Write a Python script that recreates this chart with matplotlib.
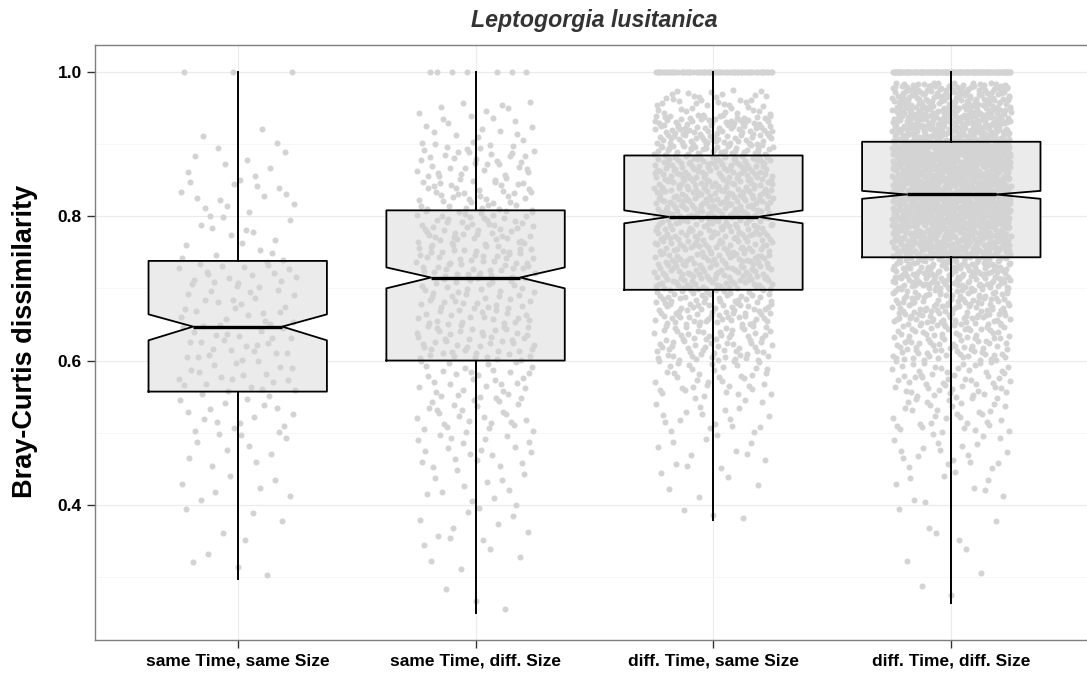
import numpy as np
import matplotlib.pyplot as plt

plt.rcParams['font.family'] = ['Liberation Sans', 'DejaVu Sans']

groups = ['same Time, same Size', 'same Time, diff. Size',
          'diff. Time, same Size', 'diff. Time, diff. Size']

# box statistics
q1 = [0.557, 0.600, 0.698, 0.743]
med = [0.647, 0.715, 0.799, 0.830]
q3 = [0.738, 0.808, 0.884, 0.903]
notch_lo = [0.628, 0.700, 0.790, 0.824]
notch_hi = [0.664, 0.729, 0.808, 0.835]
whisk_lo = [0.297, 0.250, 0.379, 0.264]
whisk_hi = [1.0, 1.0, 1.0, 1.0]

# jittered points: how many points fall in each band of dissimilarity
g1_edges = [0.297, 0.35, 0.40, 0.45, 0.50, 0.557, 0.60, 0.647, 0.70, 0.738, 0.80, 0.85, 0.90, 0.93]
g1_counts = [4, 5, 7, 10, 18, 20, 24, 24, 20, 15, 15, 8, 3]
g2_edges = [0.25, 0.30, 0.35, 0.40, 0.45, 0.50, 0.55, 0.60, 0.65, 0.715, 0.76, 0.808, 0.85, 0.90, 0.96]
g2_counts = [3, 5, 10, 12, 20, 28, 32, 50, 60, 55, 55, 40, 40, 23]
g3_edges = [0.379, 0.40, 0.45, 0.50, 0.55, 0.60, 0.65, 0.698, 0.75, 0.799, 0.84, 0.884, 0.90, 0.94, 0.975]
g3_counts = [3, 5, 12, 20, 40, 75, 95, 130, 120, 125, 125, 45, 105, 40]
g4_edges = [0.264, 0.30, 0.35, 0.40, 0.45, 0.50, 0.55, 0.60, 0.65, 0.70, 0.743,
            0.79, 0.83, 0.87, 0.903, 0.95, 0.985]
g4_counts = [2, 3, 5, 10, 20, 35, 55, 90, 130, 150, 240, 260, 260, 240, 250, 150]
# points sitting exactly at 1.0
at_one = [3, 7, 60, 100]


def halton(i, b):
    f, r = 1.0, 0.0
    while i > 0:
        f /= b
        r += f * (i % b)
        i //= b
    return r


def spread(pos, edges, counts, n_top, half=0.25):
    # lay the counted points out evenly inside each band (stands in for jitter)
    xs, ys = [], []
    k = 1
    for lo, hi, n in zip(edges[:-1], edges[1:], counts):
        for _ in range(n):
            xs.append(pos + half * (2 * halton(k, 2) - 1))
            ys.append(lo + (hi - lo) * halton(k, 3))
            k += 1
    for _ in range(n_top):
        xs.append(pos + half * (2 * halton(k, 2) - 1))
        ys.append(1.0)
        k += 1
    return xs, ys


fig = plt.figure(figsize=(10.87, 6.73), dpi=100)
ax = fig.add_axes([95 / 1087, 33 / 673, 999 / 1087, 595 / 673])

pos = [1, 2, 3, 4]
stats = [dict(med=med[i], q1=q1[i], q3=q3[i], cilo=notch_lo[i], cihi=notch_hi[i],
              whislo=whisk_lo[i], whishi=whisk_hi[i], label=groups[i]) for i in range(4)]

# fill layer
ax.bxp(stats, positions=pos, widths=0.75, shownotches=True, showcaps=False,
       showfliers=False, patch_artist=True,
       boxprops=dict(facecolor='#EBEBEB', edgecolor='none'),
       whiskerprops=dict(linewidth=0), medianprops=dict(linewidth=0), zorder=2)

all_edges = [g1_edges, g2_edges, g3_edges, g4_edges]
all_counts = [g1_counts, g2_counts, g3_counts, g4_counts]
for i in range(4):
    xs, ys = spread(pos[i], all_edges[i], all_counts[i], at_one[i])
    ax.scatter(xs, ys, s=19, color='#D3D3D3', linewidths=0, zorder=3)

# outline layer
ax.bxp(stats, positions=pos, widths=0.75, shownotches=True, showcaps=False,
       showfliers=False,
       boxprops=dict(color='black', linewidth=1.3),
       whiskerprops=dict(color='black', linewidth=1.4),
       medianprops=dict(color='black', linewidth=2.4), zorder=4)

ax.set_xlim(0.4, 4.6)
ax.set_ylim(0.213, 1.037)
ax.set_yticks([0.4, 0.6, 0.8, 1.0])
ax.set_yticklabels(['0.4', '0.6', '0.8', '1.0'])
ax.set_yticks([0.3, 0.5, 0.7, 0.9], minor=True)
ax.set_xticks(pos)
ax.set_xticklabels(groups)

ax.set_axisbelow(True)
ax.grid(which='major', color='#EBEBEB', linewidth=0.8)
ax.grid(which='minor', axis='y', color='#F5F5F5', linewidth=0.6)
ax.tick_params(which='minor', length=0)
ax.tick_params(which='major', length=5.5, width=1, color='#333333', pad=4)
for lab in ax.get_xticklabels() + ax.get_yticklabels():
    lab.set_fontsize(12.5)
    lab.set_fontweight('bold')
    lab.set_color('black')

for s in ax.spines.values():
    s.set_color('#7F7F7F')
    s.set_linewidth(1)

fig.text(594.5 / 1087, 1 - 20 / 673, 'Leptogorgia lusitanica', ha='center', va='center',
         fontsize=16.7, fontweight='bold', fontstyle='italic', color='#333333')
fig.text(25 / 1087, 1 - 341.5 / 673, 'Bray-Curtis dissimilarity', ha='center', va='center',
         rotation=90, fontsize=19.5, fontweight='bold')

fig.savefig('out.png', dpi=100)
